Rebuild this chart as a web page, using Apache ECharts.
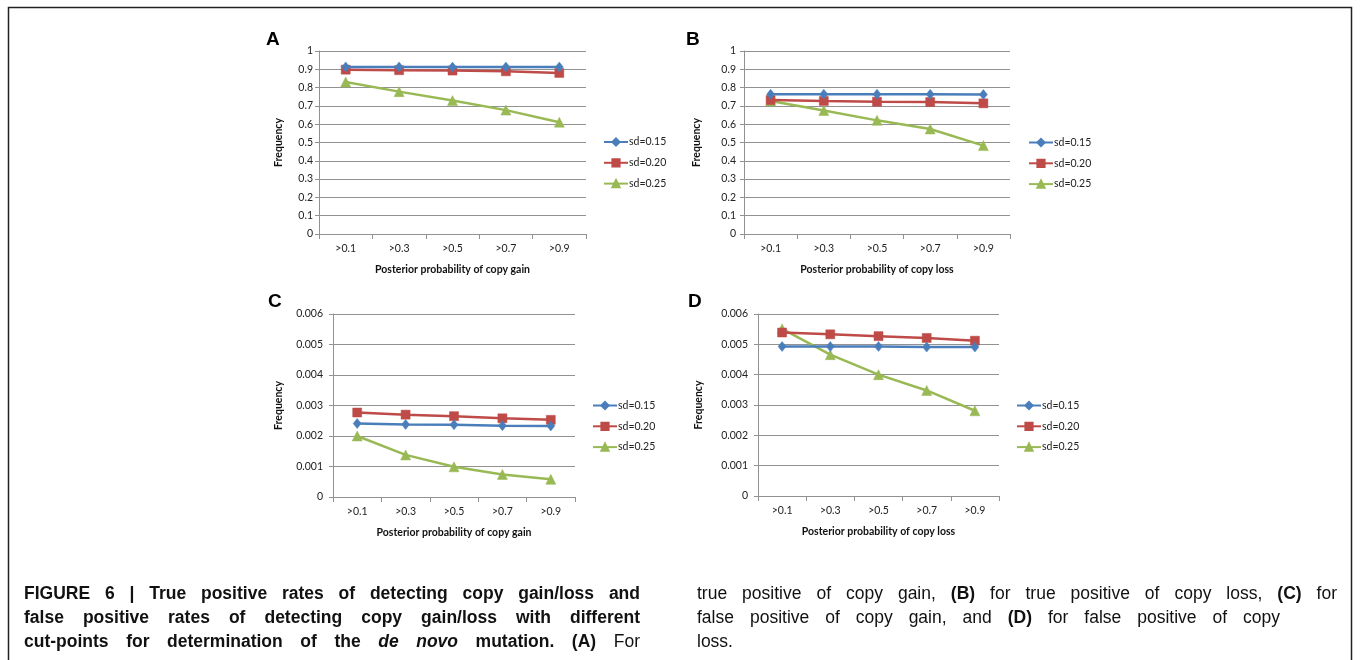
<!DOCTYPE html>
<html>
<head>
<meta charset="utf-8">
<script src="https://cdn.jsdelivr.net/npm/echarts@6/dist/echarts.min.js"></script>
<style>
  html, body { margin: 0; padding: 0; background: #ffffff; }
  #wrap { position: relative; width: 1360px; height: 660px; overflow: hidden; }
  #chart { position: absolute; left: 0; top: 0; width: 1360px; height: 660px; }
  .cap { position: absolute; height: 24px; line-height: 24px; font-size: 17.5px; color: #111;
         font-family: "Liberation Sans", Arial, sans-serif;
         white-space: nowrap; text-align: justify; text-align-last: justify; }
  .cap.b { font-weight: bold; }
  .cap b { font-weight: bold; }
  .cap.last { text-align-last: left; }
</style>
</head>
<body>
<div id="wrap">
  <div id="chart"></div>
  <div class="cap b" style="left:24px; top:581px; width:616px;">FIGURE 6 | True positive rates of detecting copy gain/loss and</div>
  <div class="cap b" style="left:24px; top:605px; width:616px;">false positive rates of detecting copy gain/loss with different</div>
  <div class="cap" style="left:24px; top:629px; width:616px;"><b>cut-points for determination of the <i>de novo</i> mutation. (A)</b> For</div>
  <div class="cap" style="left:697px; top:581px; width:640px;">true positive of copy gain, <b>(B)</b> for true positive of copy loss, <b>(C)</b> for</div>
  <div class="cap" style="left:697px; top:605px; width:583px;">false positive of copy gain, and <b>(D)</b> for false positive of copy</div>
  <div class="cap last" style="left:697px; top:629px; width:100px;">loss.</div>
</div>
<script>
// ---------------- DATA ----------------
const categories = ['>0.1', '>0.3', '>0.5', '>0.7', '>0.9'];
const seriesNames = ['sd=0.15', 'sd=0.20', 'sd=0.25'];

// A: true positive, copy gain
const gainTP_sd015 = [0.913, 0.913, 0.912, 0.912, 0.912];
const gainTP_sd020 = [0.898, 0.895, 0.893, 0.889, 0.880];
const gainTP_sd025 = [0.831, 0.778, 0.729, 0.677, 0.611];

// B: true positive, copy loss
const lossTP_sd015 = [0.764, 0.764, 0.764, 0.763, 0.762];
const lossTP_sd020 = [0.732, 0.727, 0.723, 0.721, 0.714];
const lossTP_sd025 = [0.727, 0.675, 0.621, 0.574, 0.483];

// C: false positive, copy gain
const gainFP_sd015 = [0.00241, 0.00238, 0.00237, 0.00234, 0.00233];
const gainFP_sd020 = [0.00277, 0.00270, 0.00265, 0.00258, 0.00253];
const gainFP_sd025 = [0.00200, 0.00138, 0.00099, 0.00074, 0.00058];

// D: false positive, copy loss
const lossFP_sd015 = [0.00493, 0.00493, 0.00493, 0.00491, 0.00491];
const lossFP_sd020 = [0.00539, 0.00533, 0.00527, 0.00521, 0.00512];
const lossFP_sd025 = [0.00551, 0.00466, 0.00400, 0.00348, 0.00281];

// tick labels
const ticksTP = ['0', '0.1', '0.2', '0.3', '0.4', '0.5', '0.6', '0.7', '0.8', '0.9', '1'];
const ticksFP = ['0', '0.001', '0.002', '0.003', '0.004', '0.005', '0.006'];

const panelLetters = ['A', 'B', 'C', 'D'];
const xAxisNames = ['Posterior probability of copy gain', 'Posterior probability of copy loss',
                    'Posterior probability of copy gain', 'Posterior probability of copy loss'];
const yAxisName = 'Frequency';

// ---------------- STYLE / LAYOUT ----------------
const colors = ['#4A7EBB', '#BE4B48', '#98B954'];
const symbols = ['diamond', 'rect', 'triangle'];
const symbolSizes = [[8, 10], 9, 10];
const FONT = 'Lato, "Open Sans", "Liberation Sans", sans-serif';
const GRID_COLOR = '#929292';

const panels = [
  { grid: { left: 319, top: 51, width: 267, height: 183 }, legend: { left: 603, top: 136 },
    letter: { x: 266, y: 30 }, labelMargin: 6, nameGap: 35, ticks: ticksTP,
    data: [gainTP_sd015, gainTP_sd020, gainTP_sd025] },
  { grid: { left: 744, top: 51, width: 266, height: 183 }, legend: { left: 1028, top: 136.5 },
    letter: { x: 686, y: 30 }, labelMargin: 8, nameGap: 42, ticks: ticksTP,
    data: [lossTP_sd015, lossTP_sd020, lossTP_sd025] },
  { grid: { left: 333, top: 314, width: 242, height: 183 }, legend: { left: 592, top: 399.5 },
    letter: { x: 268, y: 292 }, labelMargin: 10, nameGap: 49, ticks: ticksFP,
    data: [gainFP_sd015, gainFP_sd020, gainFP_sd025] },
  { grid: { left: 758, top: 314, width: 241, height: 182 }, legend: { left: 1016, top: 399.5 },
    letter: { x: 688, y: 292 }, labelMargin: 10, nameGap: 54, ticks: ticksFP,
    data: [lossFP_sd015, lossFP_sd020, lossFP_sd025] }
];

const grids = [], xAxes = [], yAxes = [], series = [], legends = [], graphics = [];

graphics.push({
  type: 'rect', shape: { x: 8.5, y: 7.5, width: 1343, height: 720 },
  style: { fill: 'none', stroke: '#222', lineWidth: 1.5 }, silent: true, z: 0
});

panels.forEach((p, i) => {
  const ticks = p.ticks;
  const step = parseFloat(ticks[1]) - parseFloat(ticks[0]);
  const maxV = parseFloat(ticks[ticks.length - 1]);
  grids.push(Object.assign({ containLabel: false }, p.grid));
  xAxes.push({
    type: 'category', gridIndex: i, data: categories, boundaryGap: true,
    name: xAxisNames[i], nameLocation: 'middle', nameGap: 30,
    nameTextStyle: { fontFamily: FONT, fontWeight: 'bold', fontSize: 10.5, color: '#111' },
    axisLine: { show: true, lineStyle: { color: GRID_COLOR, width: 1 } },
    axisTick: { show: true, length: 5, alignWithLabel: false, lineStyle: { color: GRID_COLOR } },
    axisLabel: { fontFamily: FONT, fontSize: 10.5, color: '#222', margin: 9 },
    splitLine: { show: false }
  });
  yAxes.push({
    type: 'value', gridIndex: i, min: 0, max: maxV, interval: step,
    name: yAxisName, nameLocation: 'middle', nameRotate: 90, nameGap: p.nameGap,
    nameTextStyle: { fontFamily: FONT, fontWeight: 'bold', fontSize: 10.5, color: '#111' },
    axisLine: { show: true, lineStyle: { color: GRID_COLOR, width: 1 } },
    axisTick: { show: true, length: 4, lineStyle: { color: GRID_COLOR } },
    axisLabel: {
      fontFamily: FONT, fontSize: 10.5, color: '#222', margin: p.labelMargin,
      formatter: v => ticks[Math.round(v / step)]
    },
    splitLine: { show: true, lineStyle: { color: GRID_COLOR, width: 1 } }
  });
  p.data.forEach((vals, k) => {
    series.push({
      type: 'line', name: seriesNames[k], xAxisIndex: i, yAxisIndex: i,
      data: vals, symbol: symbols[k], symbolSize: symbolSizes[k],
      showAllSymbol: true, animation: false, z: 3 + (k === 0 ? 2 : k === 1 ? 1 : 0),
      lineStyle: { color: colors[k], width: 2.5 },
      itemStyle: { color: colors[k], borderColor: colors[k], borderWidth: 0.5 }
    });
  });
  legends.push({
    orient: 'vertical', left: p.legend.left, top: p.legend.top, padding: 0,
    data: seriesNames.slice(), itemWidth: 24, itemHeight: 9, itemGap: 8.8,
    selectedMode: false,
    textStyle: { fontFamily: FONT, fontSize: 10.5, color: '#222', lineHeight: 12, padding: [0, 0, 0, -4] }
  });
  graphics.push({
    type: 'text', left: p.letter.x, top: p.letter.y, silent: true,
    style: { text: panelLetters[i], font: 'bold 19px "Liberation Sans", Arial, sans-serif', fill: '#000' }
  });
});

const chart = echarts.init(document.getElementById('chart'), null, { renderer: 'canvas' });
chart.setOption({
  animation: false,
  backgroundColor: '#ffffff',
  color: colors,
  grid: grids, xAxis: xAxes, yAxis: yAxes, series: series, legend: legends,
  graphic: graphics
});
</script>
</body>
</html>
